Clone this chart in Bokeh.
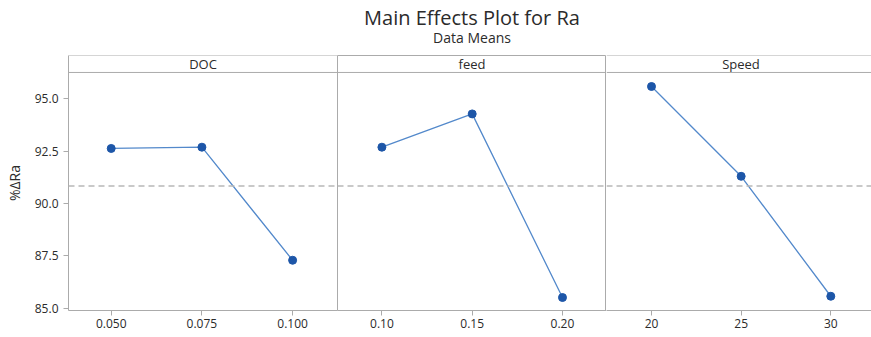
from bokeh.plotting import figure
from bokeh.layouts import row, column
from bokeh.models import Range1d, FixedTicker, NumeralTickFormatter, Span, Label
from bokeh.embed import file_html
from bokeh.resources import INLINE

# ---- data ----
factors = ["DOC", "feed", "Speed"]
doc_levels = [0.050, 0.075, 0.100]
doc_means = [92.63, 92.69, 87.29]
feed_levels = [0.10, 0.15, 0.20]
feed_means = [92.69, 94.28, 85.51]
speed_levels = [20, 25, 30]
speed_means = [95.59, 91.30, 85.57]
y_ticks = [85.0, 87.5, 90.0, 92.5, 95.0]
x_formats = ["0.000", "0.00", "0"]
title_text = "Main Effects Plot for Ra"
subtitle_text = "Data Means"

all_vals = doc_means + feed_means + speed_means
grand_mean = sum(all_vals) / len(all_vals)

FONT = "Open Sans"
TXT = "#2b2b2b"
GRID = "#ababab"
LINE = "#5389cb"
DOT = "#1d56a8"

# ---- title strip (its own small figure so the texts sit inside a frame) ----
tp = figure(width=871, height=54, x_range=Range1d(0, 871), y_range=Range1d(0, 54),
            output_backend="svg", toolbar_location=None, title=None,
            x_axis_location=None, y_axis_location=None, min_border=0)
tp.grid.visible = False
tp.outline_line_color = None
tp.background_fill_color = "white"
tp.border_fill_color = "white"
tp.add_layout(Label(x=471.5, y=37, text=title_text, text_align="center",
                    text_baseline="middle", text_font=FONT, text_font_size="20px",
                    text_color=TXT))
tp.add_layout(Label(x=471.5, y=17, text=subtitle_text, text_align="center",
                    text_baseline="middle", text_font=FONT, text_font_size="14px",
                    text_color=TXT))

y_range = Range1d(84.89, 97.07)
header_y = 96.26
header_text_y = 96.66

x_ranges = [Range1d(0.03823, 0.11237), Range1d(0.07542, 0.22437), Range1d(17.49, 32.27)]
levels = [doc_levels, feed_levels, speed_levels]
means = [doc_means, feed_means, speed_means]
widths = [337, 269, 265]

figs = []
for i in range(3):
    p = figure(width=widths[i], height=283, x_range=x_ranges[i], y_range=y_range,
               output_backend="svg", toolbar_location=None, title=None,
               y_axis_location="left" if i == 0 else None,
               min_border_left=68 if i == 0 else 0, min_border_right=0,
               min_border_top=1, min_border_bottom=27)
    p.grid.visible = False
    p.background_fill_color = "white"
    p.border_fill_color = "white"
    if i == 1:
        p.outline_line_color = GRID
        p.outline_line_width = 1
    else:
        p.outline_line_color = None
        p.add_layout(Span(location=y_range.end, dimension="width",
                          line_color=GRID, line_width=1))

    xa = p.xaxis[0]
    xa.ticker = FixedTicker(ticks=levels[i])
    xa.formatter = NumeralTickFormatter(format=x_formats[i])
    xa.axis_line_color = GRID
    xa.major_tick_line_color = GRID
    xa.major_tick_out = 5
    xa.major_tick_in = 0
    xa.minor_tick_line_color = None
    xa.major_label_text_font = FONT
    xa.major_label_text_font_size = "12px"
    xa.major_label_text_color = TXT
    xa.major_label_standoff = 3

    if i == 0:
        ya = p.yaxis[0]
        ya.ticker = FixedTicker(ticks=y_ticks)
        ya.formatter = NumeralTickFormatter(format="0.0")
        ya.axis_line_color = GRID
        ya.major_tick_line_color = GRID
        ya.major_tick_out = 5
        ya.major_tick_in = 0
        ya.minor_tick_line_color = None
        ya.major_label_text_font = FONT
        ya.major_label_text_font_size = "12px"
        ya.major_label_text_color = TXT
        ya.major_label_standoff = 5
        ya.axis_label = "%ΔRa"
        ya.axis_label_text_font = FONT
        ya.axis_label_text_font_size = "14px"
        ya.axis_label_text_font_style = "normal"
        ya.axis_label_text_color = TXT
        ya.axis_label_standoff = 8

    # header strip
    p.add_layout(Span(location=header_y, dimension="width", line_color=GRID, line_width=1))
    p.add_layout(Label(x=(x_ranges[i].start + x_ranges[i].end) / 2 if i < 2 else
                       x_ranges[i].start + (x_ranges[i].end - x_ranges[i].start) * 269 / 265 / 2,
                       y=header_text_y, text=factors[i],
                       text_align="center", text_baseline="middle",
                       text_font=FONT, text_font_size="13px", text_color=TXT))

    # grand-mean reference line
    p.add_layout(Span(location=grand_mean, dimension="width", line_color="#b8b8b8",
                      line_width=1.5, line_dash="6 4"))

    p.line(levels[i], means[i], line_color=LINE, line_width=1.3)
    p.scatter(levels[i], means[i], size=8, fill_color=DOT, line_color=DOT)
    figs.append(p)

layout = column(tp, row(figs, spacing=0), spacing=0)
open("out.html", "w").write(file_html(layout, INLINE))
